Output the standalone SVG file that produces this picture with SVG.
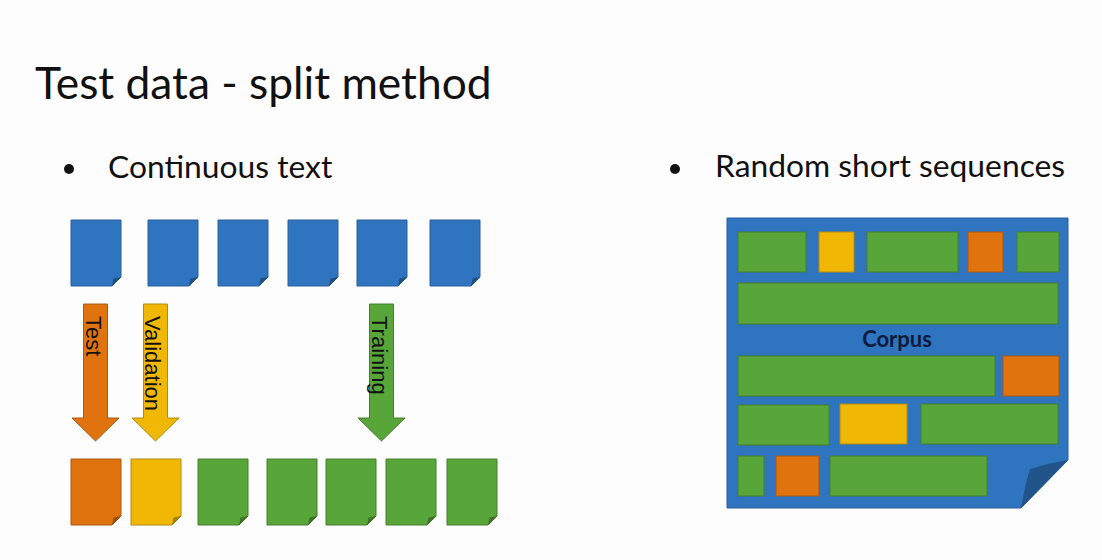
<svg xmlns="http://www.w3.org/2000/svg" xmlns:xlink="http://www.w3.org/1999/xlink" width="1102" height="560" viewBox="0 0 1102 560">
<style>
.title{font-family:Lato,"Liberation Sans",sans-serif;font-size:44.3px;fill:#111}
.bul{font-family:Lato,"Liberation Sans",sans-serif;font-size:31.8px;fill:#111}
.lab{font-family:"Liberation Sans",Arial,sans-serif;font-size:22px;fill:#111}
.corp{font-family:Lato,"Liberation Sans",sans-serif;font-size:22px;font-weight:bold;fill:#0d1b3e}
.blue{fill:#2f74bf;stroke:#2a5f9a;stroke-width:1}
.green{fill:#58a63a;stroke:#45802d;stroke-width:1}
.orange{fill:#e0730e;stroke:#a85a12;stroke-width:1}
.yellow{fill:#f1b705;stroke:#b48a10;stroke-width:1}
.fold{fill:#000;fill-opacity:0.3}
</style>
<defs>
<path id="doc" d="M0,0 H50 V57 L41,66 H0 Z"/>
<path id="fold" d="M41,66 L42.5,58.5 L50,57 Z"/>
<path id="arrow" d="M-12,0 H12 V114 H23.5 L0,137 L-23.5,114 H-12 Z"/>
</defs>
<rect x="0" y="0" width="1102" height="560" fill="#fdfdfd"/>
<text class="title" x="35" y="99">Test data - split method</text>
<g id="bullet-left">
<circle cx="69" cy="169" r="5" fill="#111"/>
<text class="bul" x="108" y="178">Continuous text</text>
</g>
<g id="bullet-right">
<circle cx="675" cy="169" r="5" fill="#111"/>
<text class="bul" x="715" y="177">Random short sequences</text>
</g>
<g id="top-docs">
<g id="doc-top-1" transform="translate(71,220)"><use xlink:href="#doc" class="blue"/><use xlink:href="#fold" class="fold"/></g>
<g id="doc-top-2" transform="translate(148,220)"><use xlink:href="#doc" class="blue"/><use xlink:href="#fold" class="fold"/></g>
<g id="doc-top-3" transform="translate(218,220)"><use xlink:href="#doc" class="blue"/><use xlink:href="#fold" class="fold"/></g>
<g id="doc-top-4" transform="translate(288,220)"><use xlink:href="#doc" class="blue"/><use xlink:href="#fold" class="fold"/></g>
<g id="doc-top-5" transform="translate(357,220)"><use xlink:href="#doc" class="blue"/><use xlink:href="#fold" class="fold"/></g>
<g id="doc-top-6" transform="translate(430,220)"><use xlink:href="#doc" class="blue"/><use xlink:href="#fold" class="fold"/></g>
</g>
<g id="connectors">
<g id="arrow-test"><use xlink:href="#arrow" class="orange" transform="translate(95.5,304)"/><text class="lab" transform="translate(86,316) rotate(90)">Test</text></g>
<g id="arrow-validation"><use xlink:href="#arrow" class="yellow" transform="translate(155.5,304)"/><text class="lab" transform="translate(145,316) rotate(90)">Validation</text></g>
<g id="arrow-training"><use xlink:href="#arrow" class="green" transform="translate(381.5,304)"/><text class="lab" transform="translate(372,316) rotate(90)">Training</text></g>
</g>
<g id="bottom-docs">
<g id="doc-test" transform="translate(71,459)"><use xlink:href="#doc" class="orange"/><use xlink:href="#fold" class="fold"/></g>
<g id="doc-validation" transform="translate(131,459)"><use xlink:href="#doc" class="yellow"/><use xlink:href="#fold" class="fold"/></g>
<g id="doc-train-1" transform="translate(198,459)"><use xlink:href="#doc" class="green"/><use xlink:href="#fold" class="fold"/></g>
<g id="doc-train-2" transform="translate(267,459)"><use xlink:href="#doc" class="green"/><use xlink:href="#fold" class="fold"/></g>
<g id="doc-train-3" transform="translate(326,459)"><use xlink:href="#doc" class="green"/><use xlink:href="#fold" class="fold"/></g>
<g id="doc-train-4" transform="translate(386,459)"><use xlink:href="#doc" class="green"/><use xlink:href="#fold" class="fold"/></g>
<g id="doc-train-5" transform="translate(447,459)"><use xlink:href="#doc" class="green"/><use xlink:href="#fold" class="fold"/></g>
</g>
<g id="corpus">
<path class="blue" d="M727,218 H1068 V460 L1021,508 H727 Z"/>
<path fill="#22548c" d="M1021,508 C1024,492 1027,478 1030,469 C1042,465 1056,462 1068,460 Z"/>
<rect class="green" x="738" y="232" width="68" height="40"/>
<rect class="yellow" x="819" y="232" width="35" height="40"/>
<rect class="green" x="867" y="232" width="91" height="40"/>
<rect class="orange" x="968" y="232" width="35" height="40"/>
<rect class="green" x="1017" y="232" width="42" height="40"/>
<rect class="green" x="738" y="283" width="320" height="41"/>
<text class="corp" x="897" y="347" text-anchor="middle">Corpus</text>
<rect class="green" x="738" y="356" width="257" height="40"/>
<rect class="orange" x="1003" y="356" width="56" height="40"/>
<rect class="green" x="738" y="405" width="91" height="40"/>
<rect class="yellow" x="840" y="404" width="67" height="40"/>
<rect class="green" x="921" y="404" width="137" height="40"/>
<rect class="green" x="738" y="456" width="26" height="40"/>
<rect class="orange" x="776" y="456" width="43" height="40"/>
<rect class="green" x="830" y="456" width="157" height="40"/>
</g>
</svg>
